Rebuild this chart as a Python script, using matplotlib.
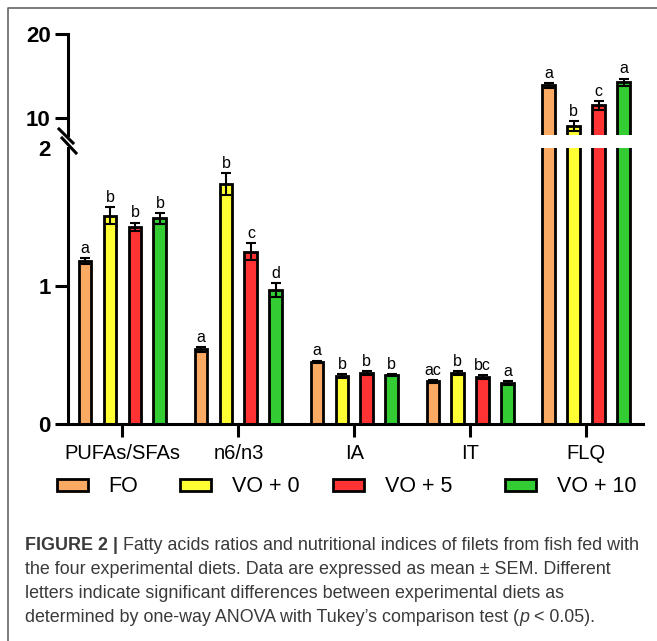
import matplotlib
matplotlib.use("Agg")
import matplotlib.pyplot as plt
import numpy as np
from matplotlib.lines import Line2D

plt.rcParams["font.family"] = ["Liberation Sans", "DejaVu Sans"]

# ---------------------------------------------------------------------------
# DATOS
# ---------------------------------------------------------------------------
categorias = ["PUFAs/SFAs", "n6/n3", "IA", "IT", "FLQ"]
dietas = ["FO", "VO + 0", "VO + 5", "VO + 10"]
colores = ["#FBAA63", "#FFFF33", "#FF3333", "#33CC33"]

fo_media = [1.18, 0.54, 0.45, 0.31, 13.9]
fo_sem = [0.02, 0.02, 0.01, 0.01, 0.3]
vo0_media = [1.51, 1.74, 0.345, 0.37, 9.0]
vo0_sem = [0.06, 0.08, 0.015, 0.015, 0.6]
vo5_media = [1.43, 1.25, 0.37, 0.34, 11.5]
vo5_sem = [0.03, 0.06, 0.015, 0.012, 0.55]
vo10_media = [1.49, 0.97, 0.355, 0.295, 14.25]
vo10_sem = [0.04, 0.05, 0.01, 0.015, 0.45]

letras_fo = ["a", "a", "a", "ac", "a"]
letras_vo0 = ["b", "b", "b", "b", "b"]
letras_vo5 = ["b", "c", "b", "bc", "c"]
letras_vo10 = ["b", "d", "b", "a", "a"]

medias = [fo_media, vo0_media, vo5_media, vo10_media]
sems = [fo_sem, vo0_sem, vo5_sem, vo10_sem]
letras = [letras_fo, letras_vo0, letras_vo5, letras_vo10]

# ---------------------------------------------------------------------------
# FIGURA
# ---------------------------------------------------------------------------
W, H = 657, 641
fig = plt.figure(figsize=(W / 100, H / 100), dpi=100)


def px(x, y):
    """Pixel de imagen (origen arriba-izquierda) -> fraccion de figura."""
    return x / W, 1 - y / H


ax_top = fig.add_axes([68 / W, 1 - 134.8 / H, 575 / W, (134.8 - 34) / H])
ax_bot = fig.add_axes([68 / W, 1 - 424 / H, 575 / W, (424 - 148) / H])

x = np.arange(len(categorias))
paso = 0.215
ancho = 0.11
lw = 2.0

barras = []
for i in range(len(dietas)):
    pos = x + (i - 1.5) * paso
    for ax in (ax_bot, ax_top):
        b = ax.bar(pos, medias[i], ancho, color=colores[i], edgecolor="black",
                   linewidth=lw, zorder=2)
        ax.errorbar(pos, medias[i], yerr=sems[i], fmt="none", ecolor="black",
                    elinewidth=1.5, capsize=3.3, capthick=1.5, zorder=3)
        if ax is ax_bot:
            barras.append(b)
    for j in range(len(categorias)):
        ax = ax_top if categorias[j] == "FLQ" else ax_bot
        ax.annotate(letras[i][j], (pos[j], medias[i][j] + sems[i][j]),
                    xytext=(0, 1.5), textcoords="offset points",
                    ha="center", va="bottom", fontsize=11.5)

for ax in (ax_top, ax_bot):
    ax.set_xlim(-0.47, 4.49)
    ax.spines["right"].set_visible(False)
    ax.spines["top"].set_visible(False)
    ax.spines["left"].set_linewidth(2.2)
    ax.spines["bottom"].set_linewidth(2.2)
    ax.tick_params(axis="both", direction="out", length=9.5, width=2.2, pad=3)

ax_bot.set_ylim(0, 2)
ax_bot.set_yticks([0, 1, 2], ["0", "1", "2"], fontsize=16, fontweight="bold")
ax_bot.yaxis.get_major_ticks()[-1].tick1line.set_visible(False)
ax_bot.set_xticks(x, categorias, fontsize=14.5)
ax_bot.tick_params(axis="x", pad=5)

ax_top.set_ylim(8, 20)
ax_top.set_yticks([10, 20], ["10", "20"], fontsize=16, fontweight="bold")
ax_top.spines["bottom"].set_visible(False)
ax_top.tick_params(axis="x", bottom=False, labelbottom=False)

# Marcas de corte del eje
for (x0, y0, x1, y1) in [(59, 129, 73, 143), (62, 138, 76, 153)]:
    a, b_ = px(x0, y0)
    c, d = px(x1, y1)
    fig.add_artist(Line2D([a, c], [b_, d], color="black", lw=2.2,
                          transform=fig.transFigure))

# Leyenda (una entrada por dieta)
hx = [57, 180, 333, 505]
for i in range(len(dietas)):
    fig.legend([barras[i]], [dietas[i]], loc="center left",
               bbox_to_anchor=px(hx[i], 487), frameon=False,
               handlelength=1.45, handleheight=0.5, handletextpad=0.95,
               borderpad=0, borderaxespad=0, fontsize=15.5)

# Marco exterior
fig.add_artist(Line2D([8 / W, 8 / W, 1.0], [0.0, 1 - 8 / H, 1 - 8 / H],
                      color="#666666", lw=1.2, transform=fig.transFigure))

# ---------------------------------------------------------------------------
# PIE DE FIGURA
# ---------------------------------------------------------------------------
gris = "#3a3a3a"
tam = 12.9
lineas = [
    [("FIGURE 2 | ", "bold", "normal"),
     ("Fatty acids ratios and nutritional indices of filets from fish fed with",
      "normal", "normal")],
    [("the four experimental diets. Data are expressed as mean \u00b1 SEM. Different",
      "normal", "normal")],
    [("letters indicate significant differences between experimental diets as",
      "normal", "normal")],
    [("determined by one-way ANOVA with Tukey\u2019s comparison test (",
      "normal", "normal"),
     ("p", "normal", "italic"),
     (" < 0.05).", "normal", "normal")],
]
bases = [550, 574, 598, 622]

fig.canvas.draw()
renderer = fig.canvas.get_renderer()
for trozos, yb in zip(lineas, bases):
    xp = 25
    for texto, peso, estilo in trozos:
        t = fig.text(*px(xp, yb), texto, fontsize=tam, fontweight=peso,
                     fontstyle=estilo, color=gris, ha="left", va="baseline")
        bb = t.get_window_extent(renderer=renderer)
        xp += bb.width

fig.savefig("out.png", dpi=100)
